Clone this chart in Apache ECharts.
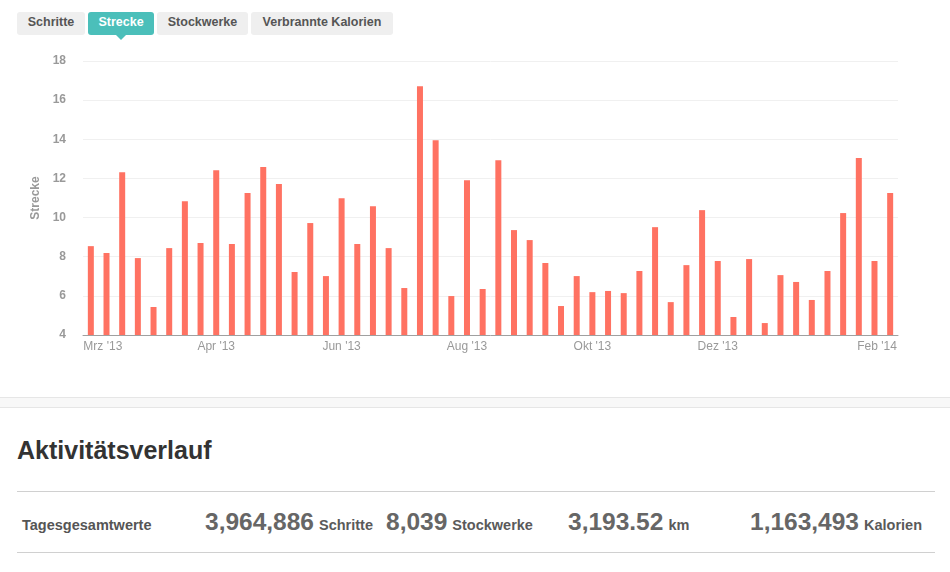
<!DOCTYPE html>
<html>
<head>
<meta charset="utf-8">
<script src="https://cdn.jsdelivr.net/npm/echarts/dist/echarts.min.js"></script>
<style>
  html, body { margin: 0; padding: 0; background: #fff; }
  body { width: 950px; height: 572px; position: relative; overflow: hidden;
         font-family: "Liberation Sans", Arial, Helvetica, sans-serif; }
  #chart { position: absolute; left: 0; top: 0; width: 950px; height: 390px; }
  .tab { position: absolute; top: 12px; height: 23px; line-height: 21px; box-sizing: border-box;
         padding-bottom: 2px; background: #efefef; color: #555; font-weight: bold; font-size: 12.5px;
         text-align: center; border-radius: 3px; z-index: 2; white-space: nowrap; }
  .tab.sel { background: #4bbfba; color: #fff; }
  .arrow { position: absolute; top: 35px; left: 116px; width: 0; height: 0; z-index: 2;
           border-left: 5px solid transparent; border-right: 5px solid transparent; border-top: 5px solid #4bbfba; }
  .band { position: absolute; left: 0; top: 397px; width: 950px; height: 11px; box-sizing: border-box;
          background: #f8f8f8; border-top: 1px solid #e6e6e6; border-bottom: 1px solid #e6e6e6; }
  .h { position: absolute; left: 17px; top: 438px; font-size: 25px; line-height: 25px; font-weight: bold; color: #333; white-space: nowrap; }
  .rule { position: absolute; left: 17px; width: 918px; height: 1px; background: #d0d0d0; }
  .lbl { position: absolute; left: 22px; top: 518px; font-size: 14.5px; line-height: 14.5px; font-weight: bold; color: #555; white-space: nowrap; }
  .grp { position: absolute; top: 510px; font-size: 24.5px; line-height: 24.5px; font-weight: bold; color: #666; white-space: nowrap; }
  .grp span { font-size: 14.5px; line-height: 14.5px; color: #5a5a5a; margin-left: 5px; }
</style>
</head>
<body>
<div id="chart"></div>
<div class="tab" style="left:17px;width:68px;">Schritte</div>
<div class="tab sel" style="left:88px;width:66px;">Strecke</div>
<div class="arrow"></div>
<div class="tab" style="left:157px;width:91px;">Stockwerke</div>
<div class="tab" style="left:251px;width:142px;">Verbrannte Kalorien</div>

<div class="band"></div>
<div class="h">Aktivitätsverlauf</div>
<div class="rule" style="top:491px;"></div>
<div class="lbl">Tagesgesamtwerte</div>
<div class="grp" style="left:205px;">3,964,886<span>Schritte</span></div>
<div class="grp" style="left:386px;">8,039<span>Stockwerke</span></div>
<div class="grp" style="left:568px;">3,193.52<span>km</span></div>
<div class="grp" style="left:750px;">1,163,493<span>Kalorien</span></div>
<div class="rule" style="top:552px;"></div>

<script>
// Weekly categories (week start dates)
const categories = [
  '2013-03-04','2013-03-11','2013-03-18','2013-03-25','2013-04-01','2013-04-08','2013-04-15','2013-04-22',
  '2013-04-29','2013-05-06','2013-05-13','2013-05-20','2013-05-27','2013-06-03','2013-06-10','2013-06-17',
  '2013-06-24','2013-07-01','2013-07-08','2013-07-15','2013-07-22','2013-07-29','2013-08-05','2013-08-12',
  '2013-08-19','2013-08-26','2013-09-02','2013-09-09','2013-09-16','2013-09-23','2013-09-30','2013-10-07',
  '2013-10-14','2013-10-21','2013-10-28','2013-11-04','2013-11-11','2013-11-18','2013-11-25','2013-12-02',
  '2013-12-09','2013-12-16','2013-12-23','2013-12-30','2014-01-06','2014-01-13','2014-01-20','2014-01-27',
  '2014-02-03','2014-02-10','2014-02-17','2014-02-24'
];
// Distance ("Strecke") values per week
const strecke = [
  8.54, 8.19, 12.32, 7.93, 5.43, 8.44, 10.84, 8.70,
  12.42, 8.65, 11.25, 12.58, 11.71, 7.22, 9.72, 7.01,
  10.99, 8.65, 10.58, 8.44, 6.40, 16.71, 13.95, 5.99,
  11.91, 6.35, 12.93, 9.36, 8.85, 7.68, 5.48, 7.01,
  6.19, 6.25, 6.14, 7.27, 9.51, 5.68, 7.57, 10.38,
  7.78, 4.92, 7.88, 4.61, 7.06, 6.71, 5.79, 7.27,
  10.23, 13.04, 7.78, 11.25
];
// X tick labels and the category index each sits on
const tickLabels = ["Mrz '13", "Apr '13", "Jun '13", "Aug '13", "Okt '13", "Dez '13", "Feb '14"];
const tickIndex = [0, 8, 16, 24, 32, 40, 50];
// Y axis range
const yMin = 4, yMax = 18, yStep = 2;

const tickMap = {};
tickIndex.forEach((ci, k) => { tickMap[categories[ci]] = k; });

const chart = echarts.init(document.getElementById('chart'), null, { renderer: 'canvas' });
chart.setOption({
  animation: false,
  grid: { left: 83, right: 52, top: 61, bottom: 55, containLabel: false },
  xAxis: {
    type: 'category',
    data: categories,
    axisLine: { show: true, lineStyle: { color: '#a0a0a0', width: 1 } },
    axisTick: { show: false },
    splitLine: { show: false },
    axisLabel: {
      interval: (i, v) => tickMap[v] !== undefined,
      margin: 6,
      color: '#999',
      fontSize: 12,
      fontFamily: 'Liberation Sans, Arial, sans-serif',
      formatter: (v) => {
        const k = tickMap[v];
        if (k === undefined) return '';
        if (k === 0) return '{first|' + tickLabels[k] + '}';
        if (k === tickLabels.length - 1) return '{last|' + tickLabels[k] + '}';
        return tickLabels[k];
      },
      rich: {
        first: { color: '#999', fontSize: 12, fontFamily: 'Liberation Sans, Arial, sans-serif', padding: [0, 0, 0, 24] },
        last: { color: '#999', fontSize: 12, fontFamily: 'Liberation Sans, Arial, sans-serif', padding: [0, 0, 0, 5] }
      }
    }
  },
  yAxis: {
    type: 'value',
    min: yMin, max: yMax, interval: yStep,
    name: 'Strecke',
    nameLocation: 'middle',
    nameGap: 40,
    nameTextStyle: { color: '#999', fontSize: 12, fontWeight: 'bold', fontFamily: 'Liberation Sans, Arial, sans-serif' },
    axisLine: { show: false },
    axisTick: { show: false },
    axisLabel: { margin: 17, color: '#999', fontSize: 12, fontWeight: 'bold', fontFamily: 'Liberation Sans, Arial, sans-serif' },
    splitLine: { show: true, lineStyle: { color: '#f0f0f0', width: 1 } }
  },
  series: [{
    type: 'bar',
    data: strecke,
    barWidth: 6,
    itemStyle: { color: '#ff7262' },
    clip: true
  }]
});
</script>
</body>
</html>
